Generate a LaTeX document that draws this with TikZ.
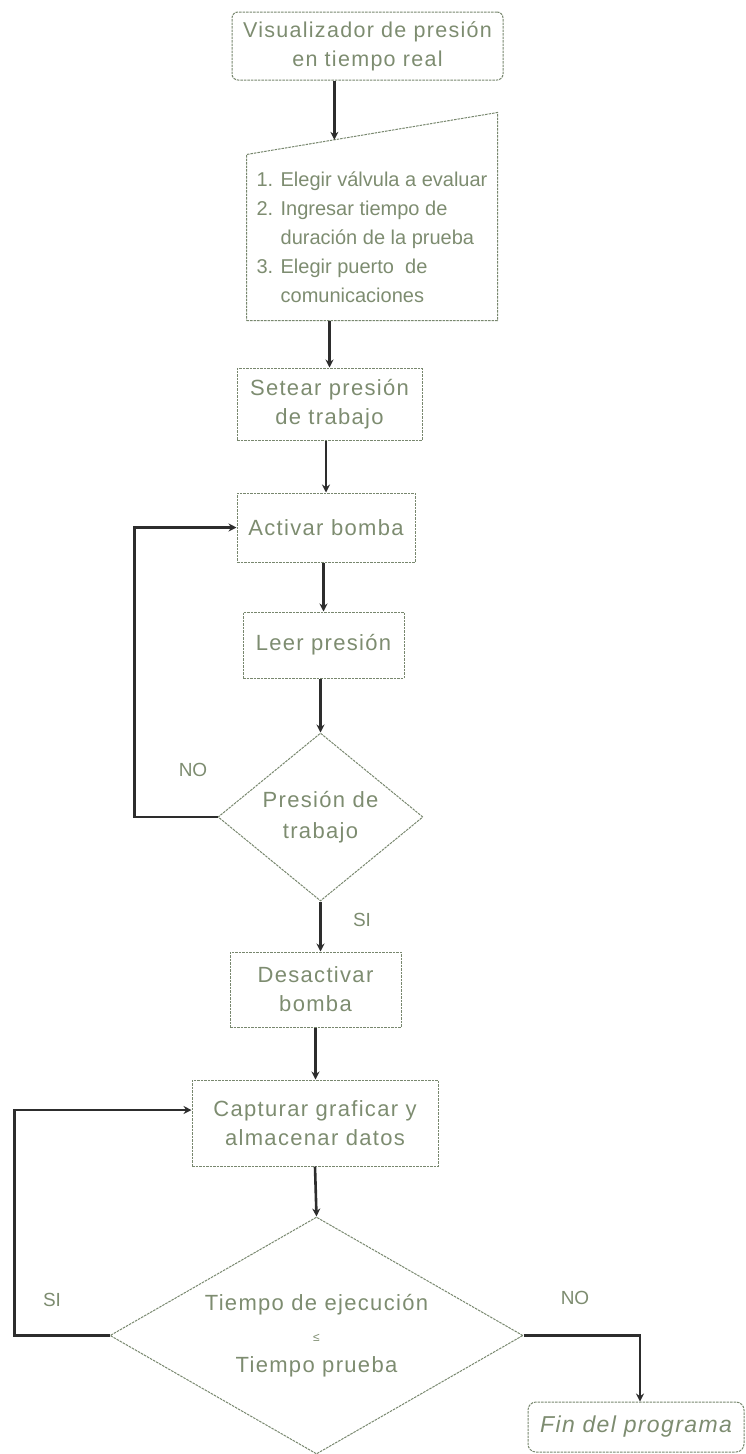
\documentclass[tikz,border=0pt]{standalone}
\usepackage{fontspec}
\setmainfont{Liberation Sans}
\newfontfamily\widefont{Liberation Sans}[LetterSpace=6]
\usetikzlibrary{shapes.geometric,arrows.meta,calc}
\definecolor{txt}{RGB}{125,140,112}
\definecolor{brd}{RGB}{120,135,110}
\definecolor{arr}{RGB}{45,45,45}
\begin{document}
\begin{tikzpicture}[x=1pt,y=-1pt,
  border/.style={draw=brd, line width=1pt, dash pattern=on 2.5pt off 1pt},
  box/.style={border, text=txt, align=center, inner sep=0pt, font=\widefont\fontsize{22}{29}\selectfont},
  dec/.style={diamond, border, text=txt, align=center, inner sep=0pt, font=\widefont\fontsize{22}{31}\selectfont},
  flow/.style={draw=arr, line width=2.6pt, -{Stealth[length=8pt,width=8pt]}},
  lbl/.style={text=txt, font=\fontsize{19}{22}\selectfont}
]
\useasboundingbox (0,0) rectangle (745,1454);

\node[box, rounded corners=6pt, minimum width=271, minimum height=68, font=\widefont\fontsize{21.5}{29}\selectfont] (box1) at (367.5,46) {Visualizador de presión\\en tiempo real};

\node[box, draw=none, minimum width=250, minimum height=165, align=left, font=\fontsize{20}{29}\selectfont] (b2) at (372,237.5)
  {1. Elegir válvula a evaluar\\2. Ingresar tiempo de\\\hphantom{2. }duración de la prueba\\3. Elegir puerto\ \ de\\\hphantom{3. }comunicaciones};
\draw[border] (b2.south west) -- (b2.south east) -- ($(b2.north east)+(0,-42)$) -- (b2.north west) -- cycle;
\coordinate (t2) at ($(b2.north west)!0.35!($(b2.north east)+(0,-42)$)$);

\node[box, minimum width=185, minimum height=72] (box3) at (329.5,404) {Setear presión\\de trabajo};
\node[box, minimum width=178, minimum height=69] (box4) at (326,527.5) {Activar bomba};
\node[box, minimum width=161, minimum height=66] (box5) at (323.5,645) {Leer presión};
\node[dec, minimum width=205, minimum height=168, aspect=1.22] (d1) at (320.5,817) {Presión de\\trabajo};
\node[box, minimum width=171, minimum height=75] (box6) at (315.5,989.5) {Desactivar\\bomba};
\node[box, minimum width=246, minimum height=86] (box7) at (315,1123) {Capturar graficar y\\almacenar datos};
\node[dec, minimum width=413, minimum height=237, aspect=1.74] (d2) at (316.5,1335.5) {Tiempo de ejecución\\{\fontsize{12}{12}\selectfont ≤}\\Tiempo prueba};
\node[box, rounded corners=8pt, minimum width=216, minimum height=50, font=\widefont\fontsize{23}{26}\selectfont\itshape] (fin) at (636,1427) {Fin del programa};

\node[lbl] (no1) at (193,770) {NO};
\node[lbl] (si1) at (362,920) {SI};
\node[lbl] (si2) at (52,1300) {SI};
\node[lbl] (no2) at (575,1298) {NO};

\draw[flow] (box1.south -| t2) -- (t2);
\draw[flow] (box3.north |- b2.south) -- (box3.north);
\draw[flow] (box4.north |- box3.south) -- (box4.north);
\draw[flow] (box5.north |- box4.south) -- (box5.north);
\draw[flow] (d1.north |- box5.south) -- (d1.north);
\draw[flow] (d1.south) -- (d1.south |- box6.north);
\draw[flow] (box6.south) -- (box6.south |- box7.north);
\draw[flow] (box7.south) -- (d2.north);
\draw[flow] (d1.west) -- ++(-83,0) |- (box4.west);
\draw[flow] (d2.west) -- ++(-95,0) |- ($(box7.west)+(0,-13)$);
\draw[flow] (d2.east) -| ($(fin.north)+(4,0)$);
\end{tikzpicture}
\end{document}
